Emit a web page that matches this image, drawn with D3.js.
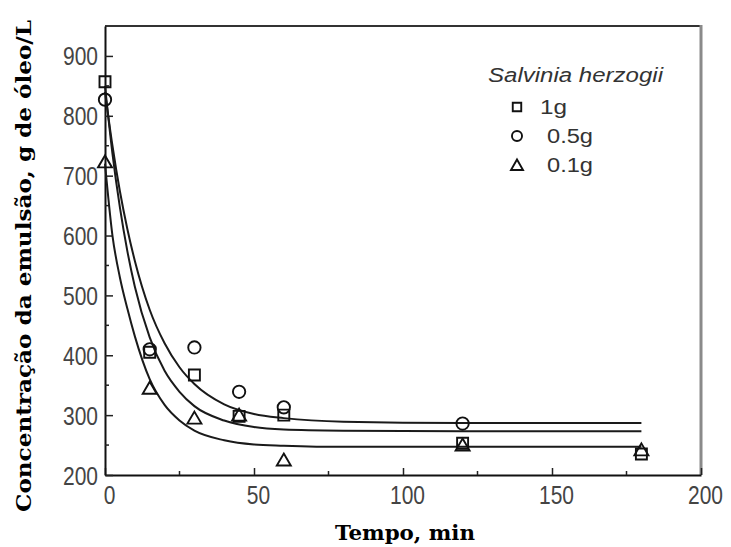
<!DOCTYPE html>
<html>
<head>
<meta charset="utf-8">
<script src="https://cdn.jsdelivr.net/npm/d3@7"></script>
<style>
  html, body { margin: 0; padding: 0; background: #fff; }
  svg { display: block; }
</style>
</head>
<body>
<svg id="chart" width="731" height="547"></svg>
<script>
// Measured emulsion concentration (g óleo/L) vs time (min)
const timeSq = [0, 15, 30, 45, 60, 120, 180];
const conc1g = [857, 405, 367, 298, 300, 253, 235];

const timeCirc = [0, 15, 30, 45, 60, 120];
const conc05g = [827, 410, 413, 339, 313, 286];

const timeTri = [0, 15, 30, 45, 60, 120, 180];
const conc01g = [723, 345, 295, 300, 225, 250, 242];

// Fitted decay curves
const fitTime = [0, 2.5, 5, 7.5, 10, 15, 20, 25, 30, 40, 50, 60, 80, 120, 180];
const fit1g  = [850, 737, 647, 574, 515, 430, 374, 339, 315, 291, 280, 276, 274, 273, 273];
const fit05g = [840, 750, 674, 611, 558, 476, 420, 380, 352, 318, 302, 295, 289, 287, 287];
const fit01g = [720, 600, 530, 478, 432, 360, 317, 291, 274, 258, 251, 249, 247, 247, 247];

const xTicks = [0, 50, 100, 150, 200];
const yTicks = [200, 300, 400, 500, 600, 700, 800, 900];
const legendTitle = "Salvinia herzogii";
const legendLabels = ["1g", "0.5g", "0.1g"];

const svg = d3.select("#chart");
const x = d3.scaleLinear().domain([0, 200]).range([105, 701]);
const y = d3.scaleLinear().domain([200, 950]).range([475, 26]);

const labelColor = "#444";

// Frame
svg.append("line").attr("x1", x(0)).attr("x2", x(200)).attr("y1", y(950)).attr("y2", y(950))
  .attr("stroke", "#333").attr("stroke-width", 2);
svg.append("line").attr("x1", x(200)).attr("x2", x(200)).attr("y1", y(950) - 1).attr("y2", y(200))
  .attr("stroke", "#8a8a8a").attr("stroke-width", 3);

// Axes with inward ticks
const xAxis = d3.axisBottom(x).tickValues(xTicks).tickSizeInner(-7).tickSizeOuter(0).tickFormat(d3.format("d"));
const gx = svg.append("g").attr("transform", `translate(0,${y(200)})`).call(xAxis);
gx.select(".domain").attr("stroke", "#111").attr("stroke-width", 2);
gx.selectAll(".tick line").attr("stroke", "#222").attr("stroke-width", 1.5);
gx.selectAll(".tick text").remove();
gx.selectAll(".tick").append("text")
  .attr("transform", "translate(4,29) scale(0.84,1)")
  .attr("text-anchor", "middle")
  .attr("fill", labelColor)
  .style("font-family", "'Liberation Sans', Arial, sans-serif")
  .style("font-size", "25px")
  .text(d => d);

const yAxis = d3.axisLeft(y).tickValues(yTicks).tickSizeInner(-8).tickSizeOuter(0).tickFormat(d3.format("d"));
const gy = svg.append("g").attr("transform", `translate(${x(0)},0)`).call(yAxis);
gy.select(".domain").attr("stroke", "#111").attr("stroke-width", 2);
gy.selectAll(".tick line").attr("stroke", "#222").attr("stroke-width", 1.5);
gy.selectAll(".tick text").remove();
gy.selectAll(".tick").append("text")
  .attr("transform", "translate(-7,9) scale(0.84,1)")
  .attr("text-anchor", "end")
  .attr("fill", labelColor)
  .style("font-family", "'Liberation Sans', Arial, sans-serif")
  .style("font-size", "25px")
  .text(d => d);

// Minor ticks
const xMinor = [25, 75, 125, 175];
svg.append("g").selectAll("line").data(xMinor).join("line")
  .attr("x1", d => x(d)).attr("x2", d => x(d))
  .attr("y1", y(200)).attr("y2", y(200) - 4)
  .attr("stroke", "#222").attr("stroke-width", 1.5);
const yMinor = [250, 350, 450, 550, 650, 750, 850];
svg.append("g").selectAll("line").data(yMinor).join("line")
  .attr("x1", x(0)).attr("x2", x(0) + 4)
  .attr("y1", d => y(d)).attr("y2", d => y(d))
  .attr("stroke", "#222").attr("stroke-width", 1.5);

// Fitted curves
const line = d3.line().x(d => x(d[0])).y(d => y(d[1])).curve(d3.curveMonotoneX);
[fit05g, fit1g, fit01g].forEach(series => {
  svg.append("path")
    .datum(fitTime.map((t, i) => [t, series[i]]))
    .attr("d", line)
    .attr("fill", "none")
    .attr("stroke", "#1a1a1a")
    .attr("stroke-width", 2);
});

// Marker shapes
const squarePath = d3.symbol().type(d3.symbolSquare).size(121)();
const circlePath = d3.symbol().type(d3.symbolCircle).size(120)();
const trianglePath = "M0,-6.5L7,5.5L-7,5.5Z";

function drawMarkers(ts, vs, path) {
  svg.append("g").selectAll("path").data(ts.map((t, i) => [t, vs[i]])).join("path")
    .attr("d", path)
    .attr("transform", d => `translate(${x(d[0])},${y(d[1])})`)
    .attr("fill", "none")
    .attr("stroke", "#111")
    .attr("stroke-width", 1.9);
}
drawMarkers(timeSq, conc1g, squarePath);
drawMarkers(timeCirc, conc05g, circlePath);
drawMarkers(timeTri, conc01g, trianglePath);

// Legend
const legend = svg.append("g");
legend.append("text")
  .attr("x", 488).attr("y", 82)
  .attr("fill", "#333")
  .attr("textLength", 175).attr("lengthAdjust", "spacingAndGlyphs")
  .style("font-family", "'Liberation Sans', Arial, sans-serif")
  .style("font-size", "20px").style("font-style", "italic")
  .text(legendTitle);
const legendShapes = [d3.symbol().type(d3.symbolSquare).size(72)(), d3.symbol().type(d3.symbolCircle).size(80)(), "M0,-5.5L6,5L-6,5Z"];
const legendY = [107, 136, 165];
const legendTextX = [540, 547, 547];
const legendTextLen = [27, 46, 46];
legendLabels.forEach((lab, i) => {
  legend.append("path")
    .attr("d", legendShapes[i])
    .attr("transform", `translate(517,${legendY[i]})`)
    .attr("fill", "none").attr("stroke", "#111").attr("stroke-width", 1.9);
  legend.append("text")
    .attr("x", legendTextX[i]).attr("y", legendY[i] + 7)
    .attr("fill", "#333")
    .attr("textLength", legendTextLen[i]).attr("lengthAdjust", "spacingAndGlyphs")
    .style("font-family", "'Liberation Sans', Arial, sans-serif")
    .style("font-size", "20px")
    .text(lab);
});

// Axis titles
svg.append("text")
  .attr("x", 405).attr("y", 540)
  .attr("text-anchor", "middle")
  .attr("fill", "#000")
  .attr("textLength", 140).attr("lengthAdjust", "spacingAndGlyphs")
  .style("font-family", "'DejaVu Serif', serif")
  .style("font-weight", "bold")
  .style("font-size", "20px")
  .text("Tempo, min");

svg.append("text")
  .attr("transform", "translate(31,266) rotate(-90)")
  .attr("text-anchor", "middle")
  .attr("fill", "#000")
  .attr("textLength", 492).attr("lengthAdjust", "spacingAndGlyphs")
  .style("font-family", "'DejaVu Serif', serif")
  .style("font-weight", "bold")
  .style("font-size", "21px")
  .text("Concentração da emulsão, g de óleo/L");
</script>
</body>
</html>
